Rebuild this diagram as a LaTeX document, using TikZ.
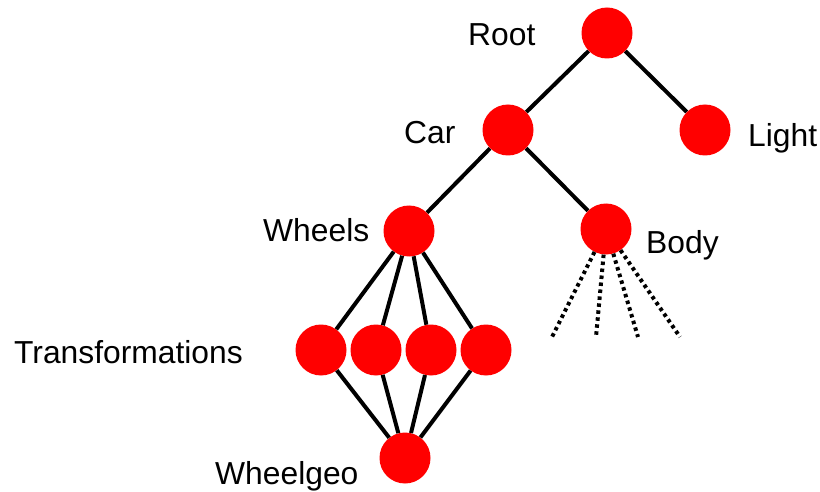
\documentclass[tikz,border=0pt]{standalone}
\usepackage{fontspec}
\setmainfont{Liberation Sans}
\begin{document}
\begin{tikzpicture}[x=1pt,y=-1pt,
  ball/.style={circle,fill=red,draw=none,minimum size=51pt,inner sep=0pt},
  edge/.style={line width=4pt,black},
  stub/.style={line width=4pt,black,dash pattern=on 3.5pt off 3.5pt},
  lbl/.style={anchor=base west,inner sep=0pt,font=\fontsize{31.8pt}{36pt}\selectfont}]
\useasboundingbox (0,0) rectangle (820,492);
% tree nodes
\node[ball] (root) at (607,33) {};
\node[ball] (car) at (508,130) {};
\node[ball] (light) at (705,130) {};
\node[ball] (wheels) at (409,231) {};
\node[ball] (body) at (606,229) {};
\node[ball] (t1) at (321,350) {};
\node[ball] (t2) at (376,350) {};
\node[ball] (t3) at (431,350) {};
\node[ball] (t4) at (486,350) {};
\node[ball] (geo) at (405,458) {};
% open ends below Body
\coordinate (b1) at (552,337);
\coordinate (b2) at (596,337);
\coordinate (b3) at (638,337);
\coordinate (b4) at (680,337);
% connectors
\draw[edge] (root) -- (car);
\draw[edge] (root) -- (light);
\draw[edge] (car) -- (wheels);
\draw[edge] (car) -- (body);
\foreach \t in {t1,t2,t3,t4} {
  \draw[edge] (wheels) -- (\t);
  \draw[edge] (\t) -- (geo);
}
\foreach \b in {b1,b2,b3,b4}
  \draw[stub] (body) -- (\b);
% labels
\node[lbl] (lroot) at (468,46) {Root};
\node[lbl] (lcar) at (404,144) {Car};
\node[lbl] (llight) at (748,147) {Light};
\node[lbl] (lwheels) at (263,241) {Wheels};
\node[lbl] (lbody) at (646,253) {Body};
\node[lbl] (ltrans) at (14,363) {Transformations};
\node[lbl] (lgeo) at (215,484) {Wheelgeo};
\end{tikzpicture}
\end{document}
